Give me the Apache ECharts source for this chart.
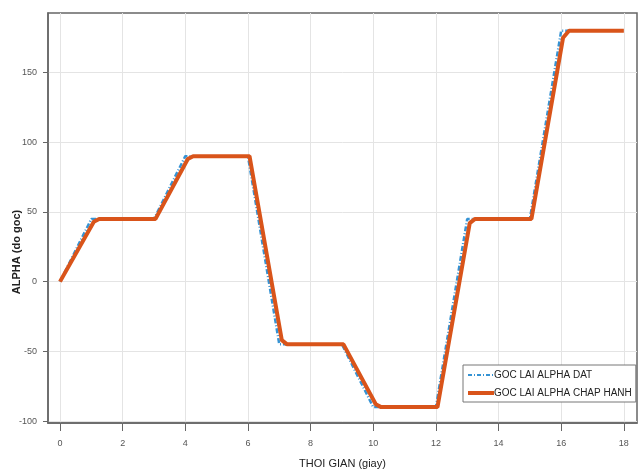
<!DOCTYPE html>
<html><head><meta charset="utf-8">
<script src="https://cdn.jsdelivr.net/npm/echarts@6/dist/echarts.min.js"></script>
<style>html,body{margin:0;padding:0;background:#fff}#c{width:643px;height:470px}</style>
</head><body><div id="c"></div>
<script>
const seriesNames = ['GOC LAI ALPHA DAT', 'GOC LAI ALPHA CHAP HANH'];
const xTicks = [0, 2, 4, 6, 8, 10, 12, 14, 16, 18];
const yTicks = [-100, -50, 0, 50, 100, 150];
const refT = [0, 1, 3, 4, 6, 7, 9, 10, 12, 13, 15, 16, 18];
const refA = [0, 45, 45, 90, 90, -45, -45, -90, -90, 45, 45, 180, 180];
const actT = [0, 1.08, 1.25, 3.05, 4.08, 4.25, 6.05, 7.08, 7.25, 9.05, 10.08, 10.25, 12.05, 13.08, 13.25, 15.05, 16.06, 16.25, 18];
const actA = [0, 43, 45, 45, 88, 90, 90, -42, -45, -45, -88, -90, -90, 42, 45, 45, 175, 180, 180];

const font = "'Liberation Sans Narrow', 'Liberation Sans', Arial, sans-serif";
const chart = echarts.init(document.getElementById('c'), null, {renderer: 'canvas'});
chart.setOption({
  animation: false,
  backgroundColor: '#fff',
  grid: {left: 48, right: 6, top: 13, bottom: 47, show: true, borderColor: '#666', borderWidth: 1.5, containLabel: false, outerBoundsMode: 'none'},
  legend: {
    orient: 'vertical', left: 463, top: 365,
    itemWidth: 26, itemHeight: 10, itemGap: 8,
    padding: [5, 4, 4, 3],
    backgroundColor: '#fff', borderColor: '#777', borderWidth: 1,
    itemStyle: {opacity: 0},
    textStyle: {fontFamily: font, fontSize: 10, color: '#222', padding: [0, 0, 0, -5]},
    data: [
      {name: seriesNames[0], lineStyle: {width: 2, type: [4, 2, 1, 2]}},
      {name: seriesNames[1], lineStyle: {width: 4}}
    ]
  },
  xAxis: {
    type: 'value', min: -0.383, max: 18.42,
    name: 'THOI GIAN (giay)', nameLocation: 'middle', nameGap: 35,
    nameTextStyle: {fontFamily: font, fontSize: 11, color: '#222'},
    axisLine: {show: true, onZero: false, lineStyle: {color: '#666', width: 1.5}},
    axisTick: {show: true, length: 8, customValues: xTicks, lineStyle: {color: '#666'}},
    axisLabel: {customValues: xTicks, fontFamily: font, fontSize: 9, color: '#555', margin: 16},
    splitLine: {show: true, lineStyle: {color: '#e4e4e4', width: 1}}
  },
  yAxis: {
    type: 'value', min: -101.4, max: 192.7,
    name: 'ALPHA (do goc)', nameLocation: 'middle', nameGap: 26, nameRotate: 90,
    nameMoveOverlap: false,
    nameTextStyle: {fontFamily: 'Liberation Sans, Arial, sans-serif', fontWeight: 'bold', fontSize: 11, color: '#222', padding: [0, 68, 0, 0]},
    axisLine: {show: true, onZero: false, lineStyle: {color: '#666', width: 1.5}},
    axisTick: {show: true, length: 5, customValues: yTicks, lineStyle: {color: '#666'}},
    axisLabel: {customValues: yTicks, fontFamily: font, fontSize: 9, color: '#555', margin: 11},
    splitLine: {show: true, lineStyle: {color: '#e4e4e4', width: 1}}
  },
  series: [
    {
      name: seriesNames[0], type: 'line', symbol: 'none',
      data: refT.map((t, i) => [t, refA[i]]),
      lineStyle: {color: '#3593d4', width: 2.5, type: [5, 2, 1, 2]},
      itemStyle: {color: '#3593d4'}, z: 2
    },
    {
      name: seriesNames[1], type: 'line', symbol: 'none',
      data: actT.map((t, i) => [t, actA[i]]),
      lineStyle: {color: '#d9541a', width: 4},
      itemStyle: {color: '#d9541a'}, z: 3
    }
  ]
});
</script></body></html>
